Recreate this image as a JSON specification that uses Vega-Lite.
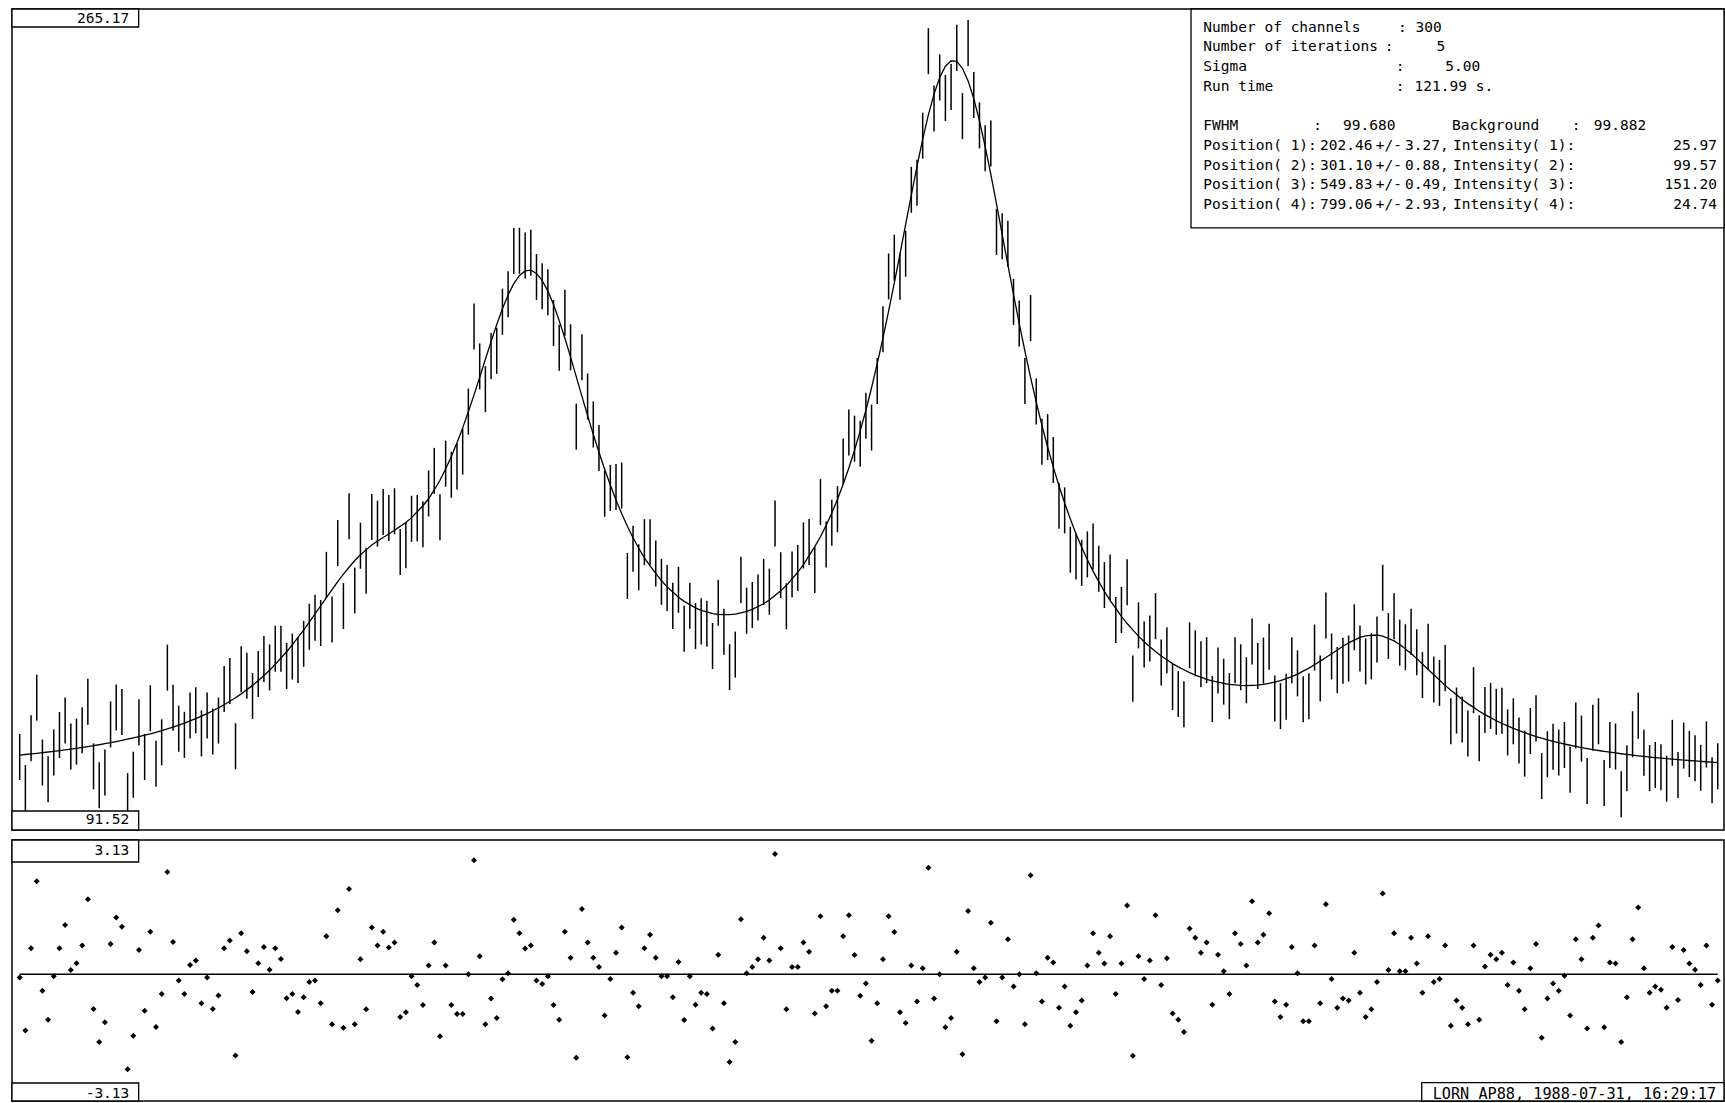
{
"$schema": "https://vega.github.io/schema/vega-lite/v6.json",
"background": "white",
"padding": {"left": 10, "top": 7, "right": 2, "bottom": 2},
"spacing": 10,
"bounds": "flush",
"config": {"view": {"stroke": "black", "strokeWidth": 1.5}},
"data": {"values": [
{"ch":0,"lo":100.01,"hi":110.01,"fit":105.41,"res":-0.08},
{"ch":1,"lo":93.24,"hi":103.24,"fit":105.54,"res":-1.46},
{"ch":2,"lo":104.07,"hi":114.07,"fit":105.67,"res":0.68},
{"ch":3,"lo":112.90,"hi":122.90,"fit":105.80,"res":2.42},
{"ch":4,"lo":98.79,"hi":108.79,"fit":105.94,"res":-0.43},
{"ch":5,"lo":95.18,"hi":105.18,"fit":106.08,"res":-1.18},
{"ch":6,"lo":100.98,"hi":110.98,"fit":106.23,"res":-0.05},
{"ch":7,"lo":104.79,"hi":114.79,"fit":106.39,"res":0.68},
{"ch":8,"lo":107.94,"hi":117.94,"fit":106.54,"res":1.28},
{"ch":9,"lo":102.26,"hi":112.26,"fit":106.71,"res":0.11},
{"ch":10,"lo":103.34,"hi":113.34,"fit":106.89,"res":0.29},
{"ch":11,"lo":105.82,"hi":115.82,"fit":107.07,"res":0.75},
{"ch":12,"lo":112.01,"hi":122.01,"fit":107.26,"res":1.95},
{"ch":13,"lo":97.96,"hi":107.96,"fit":107.46,"res":-0.90},
{"ch":14,"lo":93.86,"hi":103.86,"fit":107.66,"res":-1.76},
{"ch":15,"lo":96.63,"hi":106.63,"fit":107.88,"res":-1.25},
{"ch":16,"lo":107.06,"hi":117.06,"fit":108.11,"res":0.79},
{"ch":17,"lo":110.74,"hi":120.74,"fit":108.34,"res":1.48},
{"ch":18,"lo":109.79,"hi":119.79,"fit":108.59,"res":1.24},
{"ch":19,"lo":91.51,"hi":101.51,"fit":108.86,"res":-2.47},
{"ch":20,"lo":96.13,"hi":106.13,"fit":109.13,"res":-1.60},
{"ch":21,"lo":107.57,"hi":117.57,"fit":109.42,"res":0.63},
{"ch":22,"lo":99.98,"hi":109.98,"fit":109.73,"res":-0.95},
{"ch":23,"lo":110.59,"hi":120.59,"fit":110.04,"res":1.11},
{"ch":24,"lo":98.52,"hi":108.52,"fit":110.37,"res":-1.37},
{"ch":25,"lo":103.19,"hi":113.19,"fit":110.74,"res":-0.51},
{"ch":26,"lo":119.40,"hi":129.40,"fit":111.10,"res":2.66},
{"ch":27,"lo":110.70,"hi":120.70,"fit":111.50,"res":0.84},
{"ch":28,"lo":106.13,"hi":116.13,"fit":111.93,"res":-0.16},
{"ch":29,"lo":104.81,"hi":114.81,"fit":112.36,"res":-0.51},
{"ch":30,"lo":109.03,"hi":119.03,"fit":112.83,"res":0.24},
{"ch":31,"lo":110.15,"hi":120.15,"fit":113.35,"res":0.36},
{"ch":32,"lo":105.11,"hi":115.11,"fit":113.86,"res":-0.75},
{"ch":33,"lo":109.03,"hi":119.03,"fit":114.43,"res":-0.08},
{"ch":34,"lo":105.55,"hi":115.55,"fit":115.05,"res":-0.90},
{"ch":35,"lo":107.92,"hi":117.92,"fit":115.67,"res":-0.55},
{"ch":36,"lo":114.76,"hi":124.76,"fit":116.36,"res":0.68},
{"ch":37,"lo":116.52,"hi":126.52,"fit":117.12,"res":0.88},
{"ch":38,"lo":102.32,"hi":112.32,"fit":117.87,"res":-2.11},
{"ch":39,"lo":119.06,"hi":129.06,"fit":118.71,"res":1.07},
{"ch":40,"lo":117.64,"hi":127.64,"fit":119.64,"res":0.60},
{"ch":41,"lo":113.26,"hi":123.26,"fit":120.56,"res":-0.46},
{"ch":42,"lo":118.04,"hi":128.04,"fit":121.59,"res":0.29},
{"ch":43,"lo":121.28,"hi":131.28,"fit":122.73,"res":0.71},
{"ch":44,"lo":119.46,"hi":129.46,"fit":123.86,"res":0.12},
{"ch":45,"lo":123.52,"hi":133.52,"fit":125.12,"res":0.68},
{"ch":46,"lo":123.50,"hi":133.50,"fit":126.50,"res":0.40},
{"ch":47,"lo":119.77,"hi":129.77,"fit":127.87,"res":-0.62},
{"ch":48,"lo":121.82,"hi":131.82,"fit":129.37,"res":-0.51},
{"ch":49,"lo":121.08,"hi":131.08,"fit":130.98,"res":-0.98},
{"ch":50,"lo":124.59,"hi":134.59,"fit":132.59,"res":-0.60},
{"ch":51,"lo":128.29,"hi":138.29,"fit":134.29,"res":-0.20},
{"ch":52,"lo":130.28,"hi":140.28,"fit":136.08,"res":-0.16},
{"ch":53,"lo":129.11,"hi":139.11,"fit":137.86,"res":-0.75},
{"ch":54,"lo":139.58,"hi":149.58,"fit":139.63,"res":0.99},
{"ch":55,"lo":129.88,"hi":139.88,"fit":141.38,"res":-1.30},
{"ch":56,"lo":146.48,"hi":156.48,"fit":143.13,"res":1.67},
{"ch":57,"lo":132.80,"hi":142.80,"fit":144.75,"res":-1.39},
{"ch":58,"lo":152.33,"hi":162.33,"fit":146.23,"res":2.22},
{"ch":59,"lo":136.20,"hi":146.20,"fit":147.70,"res":-1.30},
{"ch":60,"lo":145.91,"hi":155.91,"fit":148.96,"res":0.39},
{"ch":61,"lo":140.46,"hi":150.46,"fit":150.01,"res":-0.91},
{"ch":62,"lo":152.15,"hi":162.15,"fit":151.05,"res":1.22},
{"ch":63,"lo":150.70,"hi":160.70,"fit":151.95,"res":0.75},
{"ch":64,"lo":153.26,"hi":163.26,"fit":152.71,"res":1.11},
{"ch":65,"lo":151.96,"hi":161.96,"fit":153.46,"res":0.70},
{"ch":66,"lo":153.41,"hi":163.41,"fit":154.26,"res":0.83},
{"ch":67,"lo":144.56,"hi":154.56,"fit":155.11,"res":-1.11},
{"ch":68,"lo":146.00,"hi":156.00,"fit":155.95,"res":-0.99},
{"ch":69,"lo":151.77,"hi":161.77,"fit":157.02,"res":-0.05},
{"ch":70,"lo":151.91,"hi":161.91,"fit":158.31,"res":-0.28},
{"ch":71,"lo":150.60,"hi":160.60,"fit":159.60,"res":-0.80},
{"ch":72,"lo":157.27,"hi":167.27,"fit":161.12,"res":0.23},
{"ch":73,"lo":162.18,"hi":172.18,"fit":163.03,"res":0.83},
{"ch":74,"lo":152.09,"hi":162.09,"fit":165.14,"res":-1.61},
{"ch":75,"lo":163.74,"hi":173.74,"fit":167.59,"res":0.23},
{"ch":76,"lo":161.32,"hi":171.32,"fit":170.32,"res":-0.80},
{"ch":77,"lo":163.12,"hi":173.12,"fit":173.27,"res":-1.03},
{"ch":78,"lo":166.37,"hi":176.37,"fit":176.52,"res":-1.03},
{"ch":79,"lo":175.04,"hi":185.04,"fit":180.04,"res":0.00},
{"ch":80,"lo":193.55,"hi":203.55,"fit":183.70,"res":2.97},
{"ch":81,"lo":184.88,"hi":194.88,"fit":187.53,"res":0.47},
{"ch":82,"lo":179.94,"hi":189.94,"fit":191.44,"res":-1.30},
{"ch":83,"lo":187.12,"hi":197.12,"fit":195.27,"res":-0.63},
{"ch":84,"lo":188.28,"hi":198.28,"fit":198.98,"res":-1.14},
{"ch":85,"lo":196.78,"hi":206.78,"fit":202.43,"res":-0.13},
{"ch":86,"lo":200.56,"hi":210.56,"fit":205.41,"res":0.03},
{"ch":87,"lo":209.98,"hi":219.98,"fit":207.88,"res":1.42},
{"ch":88,"lo":210.02,"hi":220.02,"fit":209.67,"res":1.07},
{"ch":89,"lo":208.99,"hi":218.99,"fit":210.64,"res":0.67},
{"ch":90,"lo":209.56,"hi":219.56,"fit":210.81,"res":0.75},
{"ch":91,"lo":204.30,"hi":214.30,"fit":210.10,"res":-0.16},
{"ch":92,"lo":202.30,"hi":212.30,"fit":208.55,"res":-0.25},
{"ch":93,"lo":201.00,"hi":211.00,"fit":206.25,"res":-0.05},
{"ch":94,"lo":194.32,"hi":204.32,"fit":203.32,"res":-0.80},
{"ch":95,"lo":188.94,"hi":198.94,"fit":199.84,"res":-1.18},
{"ch":96,"lo":196.54,"hi":206.54,"fit":195.99,"res":1.11},
{"ch":97,"lo":189.04,"hi":199.04,"fit":191.89,"res":0.43},
{"ch":98,"lo":171.80,"hi":181.80,"fit":187.65,"res":-2.17},
{"ch":99,"lo":186.88,"hi":196.88,"fit":183.38,"res":1.70},
{"ch":100,"lo":178.35,"hi":188.35,"fit":179.20,"res":0.83},
{"ch":101,"lo":172.27,"hi":182.27,"fit":175.12,"res":0.43},
{"ch":102,"lo":167.17,"hi":177.17,"fit":171.22,"res":0.19},
{"ch":103,"lo":157.20,"hi":167.20,"fit":167.55,"res":-1.07},
{"ch":104,"lo":158.49,"hi":168.49,"fit":164.09,"res":-0.12},
{"ch":105,"lo":158.66,"hi":168.66,"fit":160.86,"res":0.56},
{"ch":106,"lo":159.00,"hi":169.00,"fit":157.90,"res":1.22},
{"ch":107,"lo":139.35,"hi":149.35,"fit":155.15,"res":-2.16},
{"ch":108,"lo":145.24,"hi":155.24,"fit":152.64,"res":-0.48},
{"ch":109,"lo":141.22,"hi":151.22,"fit":150.37,"res":-0.83},
{"ch":110,"lo":146.69,"hi":156.69,"fit":148.29,"res":0.68},
{"ch":111,"lo":146.66,"hi":156.66,"fit":146.51,"res":1.03},
{"ch":112,"lo":142.06,"hi":152.06,"fit":144.91,"res":0.43},
{"ch":113,"lo":138.06,"hi":148.06,"fit":143.31,"res":-0.05},
{"ch":114,"lo":136.70,"hi":146.70,"fit":141.95,"res":-0.05},
{"ch":115,"lo":132.84,"hi":142.84,"fit":140.84,"res":-0.60},
{"ch":116,"lo":136.33,"hi":146.33,"fit":139.73,"res":0.32},
{"ch":117,"lo":127.87,"hi":137.87,"fit":138.82,"res":-1.19},
{"ch":118,"lo":132.86,"hi":142.86,"fit":138.11,"res":-0.05},
{"ch":119,"lo":128.45,"hi":138.45,"fit":137.40,"res":-0.79},
{"ch":120,"lo":129.47,"hi":139.47,"fit":136.87,"res":-0.48},
{"ch":121,"lo":128.97,"hi":138.97,"fit":136.52,"res":-0.51},
{"ch":122,"lo":124.12,"hi":134.12,"fit":136.17,"res":-1.41},
{"ch":123,"lo":133.53,"hi":143.53,"fit":135.98,"res":0.51},
{"ch":124,"lo":127.20,"hi":137.20,"fit":135.95,"res":-0.75},
{"ch":125,"lo":119.52,"hi":129.52,"fit":135.92,"res":-2.28},
{"ch":126,"lo":122.25,"hi":132.25,"fit":136.05,"res":-1.76},
{"ch":127,"lo":138.49,"hi":148.49,"fit":136.34,"res":1.43},
{"ch":128,"lo":131.78,"hi":141.78,"fit":136.63,"res":0.03},
{"ch":129,"lo":133.03,"hi":143.03,"fit":137.08,"res":0.19},
{"ch":130,"lo":134.65,"hi":144.65,"fit":137.70,"res":0.39},
{"ch":131,"lo":138.06,"hi":148.06,"fit":138.31,"res":0.95},
{"ch":132,"lo":135.92,"hi":145.92,"fit":139.12,"res":0.36},
{"ch":133,"lo":150.76,"hi":160.76,"fit":140.11,"res":3.13},
{"ch":134,"lo":139.50,"hi":149.50,"fit":141.10,"res":0.68},
{"ch":135,"lo":132.75,"hi":142.75,"fit":142.30,"res":-0.91},
{"ch":136,"lo":139.67,"hi":149.67,"fit":143.72,"res":0.19},
{"ch":137,"lo":141.09,"hi":151.09,"fit":145.14,"res":0.19},
{"ch":138,"lo":145.97,"hi":155.97,"fit":146.82,"res":0.83},
{"ch":139,"lo":146.72,"hi":156.72,"fit":148.77,"res":0.59},
{"ch":140,"lo":140.62,"hi":150.62,"fit":150.72,"res":-1.02},
{"ch":141,"lo":155.40,"hi":165.40,"fit":152.85,"res":1.51},
{"ch":142,"lo":146.18,"hi":156.18,"fit":155.33,"res":-0.83},
{"ch":143,"lo":150.88,"hi":160.88,"fit":158.03,"res":-0.43},
{"ch":144,"lo":153.86,"hi":163.86,"fit":161.01,"res":-0.43},
{"ch":145,"lo":164.22,"hi":174.22,"fit":164.27,"res":0.99},
{"ch":146,"lo":170.51,"hi":180.51,"fit":167.81,"res":1.54},
{"ch":147,"lo":169.17,"hi":179.17,"fit":171.67,"res":0.50},
{"ch":148,"lo":168.06,"hi":178.06,"fit":175.86,"res":-0.56},
{"ch":149,"lo":174.16,"hi":184.16,"fit":180.36,"res":-0.24},
{"ch":150,"lo":171.60,"hi":181.60,"fit":185.25,"res":-1.73},
{"ch":151,"lo":181.72,"hi":191.72,"fit":190.47,"res":-0.75},
{"ch":152,"lo":192.96,"hi":202.96,"fit":196.01,"res":0.39},
{"ch":153,"lo":204.43,"hi":214.43,"fit":201.88,"res":1.51},
{"ch":154,"lo":208.50,"hi":218.50,"fit":208.00,"res":1.10},
{"ch":155,"lo":204.35,"hi":214.35,"fit":214.30,"res":-0.99},
{"ch":156,"lo":209.38,"hi":219.38,"fit":220.73,"res":-1.27},
{"ch":157,"lo":223.27,"hi":233.27,"fit":227.12,"res":0.23},
{"ch":158,"lo":224.79,"hi":234.79,"fit":233.34,"res":-0.71},
{"ch":159,"lo":235.03,"hi":245.03,"fit":239.23,"res":0.16},
{"ch":160,"lo":253.39,"hi":263.39,"fit":244.54,"res":2.77},
{"ch":161,"lo":240.92,"hi":250.92,"fit":249.07,"res":-0.63},
{"ch":162,"lo":247.68,"hi":257.68,"fit":252.68,"res":0.00},
{"ch":163,"lo":243.23,"hi":253.23,"fit":255.13,"res":-1.38},
{"ch":164,"lo":245.61,"hi":255.61,"fit":256.31,"res":-1.14},
{"ch":165,"lo":254.11,"hi":264.11,"fit":256.16,"res":0.59},
{"ch":166,"lo":239.28,"hi":249.28,"fit":254.68,"res":-2.08},
{"ch":167,"lo":255.19,"hi":265.19,"fit":251.94,"res":1.65},
{"ch":168,"lo":243.86,"hi":253.86,"fit":248.06,"res":0.16},
{"ch":169,"lo":237.26,"hi":247.26,"fit":243.26,"res":-0.20},
{"ch":170,"lo":232.30,"hi":242.30,"fit":237.70,"res":-0.08},
{"ch":171,"lo":233.31,"hi":243.31,"fit":231.61,"res":1.34},
{"ch":172,"lo":214.09,"hi":224.09,"fit":225.19,"res":-1.22},
{"ch":173,"lo":213.19,"hi":223.19,"fit":218.59,"res":-0.08},
{"ch":174,"lo":211.54,"hi":221.54,"fit":211.99,"res":0.91},
{"ch":175,"lo":198.90,"hi":208.90,"fit":205.50,"res":-0.32},
{"ch":176,"lo":194.23,"hi":204.23,"fit":199.23,"res":0.00},
{"ch":177,"lo":181.69,"hi":191.69,"fit":193.19,"res":-1.30},
{"ch":178,"lo":195.39,"hi":205.39,"fit":187.49,"res":2.58},
{"ch":179,"lo":177.26,"hi":187.26,"fit":182.11,"res":0.03},
{"ch":180,"lo":168.51,"hi":178.51,"fit":177.06,"res":-0.71},
{"ch":181,"lo":169.52,"hi":179.52,"fit":172.37,"res":0.43},
{"ch":182,"lo":164.55,"hi":174.55,"fit":168.00,"res":0.31},
{"ch":183,"lo":154.59,"hi":164.59,"fit":163.94,"res":-0.87},
{"ch":184,"lo":153.60,"hi":163.60,"fit":160.20,"res":-0.32},
{"ch":185,"lo":145.04,"hi":155.04,"fit":156.74,"res":-1.34},
{"ch":186,"lo":143.59,"hi":153.59,"fit":153.54,"res":-0.99},
{"ch":187,"lo":142.19,"hi":152.19,"fit":150.59,"res":-0.68},
{"ch":188,"lo":144.03,"hi":154.03,"fit":147.88,"res":0.23},
{"ch":189,"lo":145.75,"hi":155.75,"fit":145.40,"res":1.07},
{"ch":190,"lo":140.90,"hi":150.90,"fit":143.10,"res":0.56},
{"ch":191,"lo":137.36,"hi":147.36,"fit":140.96,"res":0.28},
{"ch":192,"lo":139.00,"hi":149.00,"fit":139.05,"res":0.99},
{"ch":193,"lo":129.75,"hi":139.75,"fit":137.30,"res":-0.51},
{"ch":194,"lo":131.95,"hi":141.95,"fit":135.55,"res":0.28},
{"ch":195,"lo":137.95,"hi":147.95,"fit":134.00,"res":1.79},
{"ch":196,"lo":117.03,"hi":127.03,"fit":132.63,"res":-2.12},
{"ch":197,"lo":128.61,"hi":138.61,"fit":131.26,"res":0.47},
{"ch":198,"lo":124.44,"hi":134.44,"fit":130.04,"res":-0.12},
{"ch":199,"lo":125.77,"hi":135.77,"fit":128.97,"res":0.36},
{"ch":200,"lo":130.60,"hi":140.60,"fit":127.90,"res":1.54},
{"ch":201,"lo":120.55,"hi":130.55,"fit":126.95,"res":-0.28},
{"ch":202,"lo":123.22,"hi":133.22,"fit":126.12,"res":0.42},
{"ch":203,"lo":115.19,"hi":125.19,"fit":125.29,"res":-1.02},
{"ch":204,"lo":113.67,"hi":123.67,"fit":124.57,"res":-1.18},
{"ch":205,"lo":111.45,"hi":121.45,"fit":123.95,"res":-1.50},
{"ch":206,"lo":124.27,"hi":134.27,"fit":123.32,"res":1.19},
{"ch":207,"lo":122.54,"hi":132.54,"fit":122.79,"res":0.95},
{"ch":208,"lo":120.14,"hi":130.14,"fit":122.34,"res":0.56},
{"ch":209,"lo":121.04,"hi":131.04,"fit":121.89,"res":0.83},
{"ch":210,"lo":112.58,"hi":122.58,"fit":121.53,"res":-0.79},
{"ch":211,"lo":118.81,"hi":128.81,"fit":121.26,"res":0.51},
{"ch":212,"lo":116.38,"hi":126.38,"fit":120.98,"res":0.08},
{"ch":213,"lo":113.23,"hi":123.23,"fit":120.78,"res":-0.51},
{"ch":214,"lo":121.02,"hi":131.02,"fit":120.67,"res":1.07},
{"ch":215,"lo":119.50,"hi":129.50,"fit":120.55,"res":0.79},
{"ch":216,"lo":116.67,"hi":126.67,"fit":120.52,"res":0.23},
{"ch":217,"lo":125.08,"hi":135.08,"fit":120.58,"res":1.90},
{"ch":218,"lo":119.78,"hi":129.78,"fit":120.63,"res":0.83},
{"ch":219,"lo":120.93,"hi":130.93,"fit":120.78,"res":1.03},
{"ch":220,"lo":123.97,"hi":133.97,"fit":121.02,"res":1.59},
{"ch":221,"lo":112.71,"hi":122.71,"fit":121.26,"res":-0.71},
{"ch":222,"lo":111.05,"hi":121.05,"fit":121.60,"res":-1.11},
{"ch":223,"lo":113.09,"hi":123.09,"fit":122.04,"res":-0.79},
{"ch":224,"lo":121.03,"hi":131.03,"fit":122.48,"res":0.71},
{"ch":225,"lo":118.17,"hi":128.17,"fit":123.02,"res":0.03},
{"ch":226,"lo":112.57,"hi":122.57,"fit":123.67,"res":-1.22},
{"ch":227,"lo":113.21,"hi":123.21,"fit":124.31,"res":-1.22},
{"ch":228,"lo":123.78,"hi":133.78,"fit":125.03,"res":0.75},
{"ch":229,"lo":117.08,"hi":127.08,"fit":125.83,"res":-0.75},
{"ch":230,"lo":130.73,"hi":140.73,"fit":126.63,"res":1.82},
{"ch":231,"lo":121.84,"hi":131.84,"fit":127.44,"res":-0.12},
{"ch":232,"lo":118.91,"hi":128.91,"fit":128.26,"res":-0.87},
{"ch":233,"lo":120.93,"hi":130.93,"fit":129.08,"res":-0.63},
{"ch":234,"lo":121.39,"hi":131.39,"fit":129.79,"res":-0.68},
{"ch":235,"lo":128.19,"hi":138.19,"fit":130.39,"res":0.56},
{"ch":236,"lo":123.59,"hi":133.59,"fit":130.99,"res":-0.48},
{"ch":237,"lo":120.78,"hi":130.78,"fit":131.33,"res":-1.11},
{"ch":238,"lo":121.87,"hi":131.87,"fit":131.42,"res":-0.91},
{"ch":239,"lo":125.51,"hi":135.51,"fit":131.51,"res":-0.20},
{"ch":240,"lo":136.78,"hi":146.78,"fit":131.28,"res":2.10},
{"ch":241,"lo":126.30,"hi":136.30,"fit":130.75,"res":0.11},
{"ch":242,"lo":130.57,"hi":140.57,"fit":130.22,"res":1.07},
{"ch":243,"lo":124.85,"hi":134.85,"fit":129.45,"res":0.08},
{"ch":244,"lo":123.86,"hi":133.86,"fit":128.46,"res":0.08},
{"ch":245,"lo":127.22,"hi":137.22,"fit":127.47,"res":0.95},
{"ch":246,"lo":122.78,"hi":132.78,"fit":126.38,"res":0.28},
{"ch":247,"lo":117.80,"hi":127.80,"fit":125.20,"res":-0.48},
{"ch":248,"lo":123.96,"hi":133.96,"fit":124.01,"res":0.99},
{"ch":249,"lo":116.85,"hi":126.85,"fit":122.85,"res":-0.20},
{"ch":250,"lo":116.11,"hi":126.11,"fit":121.71,"res":-0.12},
{"ch":251,"lo":119.31,"hi":129.31,"fit":120.56,"res":0.75},
{"ch":252,"lo":107.79,"hi":117.79,"fit":119.49,"res":-1.34},
{"ch":253,"lo":110.10,"hi":120.10,"fit":118.50,"res":-0.68},
{"ch":254,"lo":108.16,"hi":118.16,"fit":117.51,"res":-0.87},
{"ch":255,"lo":105.10,"hi":115.10,"fit":116.60,"res":-1.30},
{"ch":256,"lo":114.53,"hi":124.53,"fit":115.78,"res":0.75},
{"ch":257,"lo":104.05,"hi":114.05,"fit":114.95,"res":-1.18},
{"ch":258,"lo":110.21,"hi":120.21,"fit":114.21,"res":0.20},
{"ch":259,"lo":111.09,"hi":121.09,"fit":113.54,"res":0.51},
{"ch":260,"lo":109.82,"hi":119.82,"fit":112.87,"res":0.39},
{"ch":261,"lo":110.07,"hi":120.07,"fit":112.27,"res":0.56},
{"ch":262,"lo":105.34,"hi":115.34,"fit":111.74,"res":-0.28},
{"ch":263,"lo":107.75,"hi":117.75,"fit":111.20,"res":0.31},
{"ch":264,"lo":103.56,"hi":113.56,"fit":110.71,"res":-0.43},
{"ch":265,"lo":100.73,"hi":110.73,"fit":110.28,"res":-0.91},
{"ch":266,"lo":105.64,"hi":115.64,"fit":109.84,"res":0.16},
{"ch":267,"lo":108.39,"hi":118.39,"fit":109.44,"res":0.79},
{"ch":268,"lo":95.84,"hi":105.84,"fit":109.09,"res":-1.65},
{"ch":269,"lo":100.58,"hi":110.58,"fit":108.73,"res":-0.63},
{"ch":270,"lo":102.20,"hi":112.20,"fit":108.40,"res":-0.24},
{"ch":271,"lo":100.96,"hi":110.96,"fit":108.11,"res":-0.43},
{"ch":272,"lo":102.62,"hi":112.62,"fit":107.82,"res":-0.04},
{"ch":273,"lo":97.20,"hi":107.20,"fit":107.55,"res":-1.07},
{"ch":274,"lo":106.85,"hi":116.85,"fit":107.30,"res":0.91},
{"ch":275,"lo":104.00,"hi":114.00,"fit":107.05,"res":0.39},
{"ch":276,"lo":94.78,"hi":104.78,"fit":106.83,"res":-1.41},
{"ch":277,"lo":106.37,"hi":116.37,"fit":106.62,"res":0.95},
{"ch":278,"lo":107.76,"hi":117.76,"fit":106.41,"res":1.27},
{"ch":279,"lo":94.32,"hi":104.32,"fit":106.22,"res":-1.38},
{"ch":280,"lo":102.60,"hi":112.60,"fit":106.05,"res":0.31},
{"ch":281,"lo":102.27,"hi":112.27,"fit":105.87,"res":0.28},
{"ch":282,"lo":91.90,"hi":101.90,"fit":105.70,"res":-1.76},
{"ch":283,"lo":97.55,"hi":107.55,"fit":105.55,"res":-0.60},
{"ch":284,"lo":104.95,"hi":114.95,"fit":105.40,"res":0.91},
{"ch":285,"lo":108.96,"hi":118.96,"fit":105.26,"res":1.74},
{"ch":286,"lo":100.93,"hi":110.93,"fit":105.13,"res":0.16},
{"ch":287,"lo":97.59,"hi":107.59,"fit":104.99,"res":-0.48},
{"ch":288,"lo":98.27,"hi":108.27,"fit":104.87,"res":-0.32},
{"ch":289,"lo":97.76,"hi":107.76,"fit":104.76,"res":-0.40},
{"ch":290,"lo":95.29,"hi":105.29,"fit":104.64,"res":-0.87},
{"ch":291,"lo":103.08,"hi":113.08,"fit":104.53,"res":0.71},
{"ch":292,"lo":96.08,"hi":106.08,"fit":104.43,"res":-0.67},
{"ch":293,"lo":102.47,"hi":112.47,"fit":104.32,"res":0.63},
{"ch":294,"lo":100.63,"hi":110.63,"fit":104.23,"res":0.28},
{"ch":295,"lo":99.74,"hi":109.74,"fit":104.14,"res":0.12},
{"ch":296,"lo":97.65,"hi":107.65,"fit":104.05,"res":-0.28},
{"ch":297,"lo":102.71,"hi":112.71,"fit":103.96,"res":0.75},
{"ch":298,"lo":94.93,"hi":104.93,"fit":103.88,"res":-0.79},
{"ch":299,"lo":97.99,"hi":107.99,"fit":103.79,"res":-0.16}
]},
"vconcat": [
{
"width": 1712, "height": 821,
"layer": [
{"mark": {"type": "rule", "color": "black", "strokeWidth": 1.5},
 "encoding": {
  "x": {"field": "ch", "type": "quantitative", "scale": {"domain": [-1.356, 300.1], "nice": false, "zero": false}, "axis": null},
  "y": {"field": "lo", "type": "quantitative", "scale": {"domain": [89.13, 267.56], "nice": false, "zero": false}, "axis": null},
  "y2": {"field": "hi"}}},
{"mark": {"type": "line", "color": "black", "strokeWidth": 1.3},
 "encoding": {
  "x": {"field": "ch", "type": "quantitative", "axis": null},
  "y": {"field": "fit", "type": "quantitative", "axis": null}}},
{"data": {"values": [{}]},
 "mark": {"type": "rect", "fill": "white", "stroke": "black", "strokeWidth": 1.3},
 "encoding": {"x": {"datum": -1.356, "type": "quantitative", "axis": null}, "x2": {"datum": 20.95},
  "y": {"datum": 267.56, "type": "quantitative", "axis": null}, "y2": {"datum": 263.65}}},
{"data": {"values": [{}]},
 "mark": {"type": "rect", "fill": "white", "stroke": "black", "strokeWidth": 1.3},
 "encoding": {"x": {"datum": -1.356, "type": "quantitative", "axis": null}, "x2": {"datum": 20.95},
  "y": {"datum": 93.26, "type": "quantitative", "axis": null}, "y2": {"datum": 89.13}}},
{"data": {"values": [{}]},
 "mark": {"type": "rect", "fill": "white", "stroke": "black", "strokeWidth": 1.3},
 "encoding": {"x": {"datum": 206.25, "type": "quantitative", "axis": null}, "x2": {"datum": 300.1},
  "y": {"datum": 267.56, "type": "quantitative", "axis": null}, "y2": {"datum": 219.97}}},
{"data": {"values": [{}]},
 "mark": {"type": "text", "text": "265.17", "align": "right", "baseline": "middle", "font": "DejaVu Sans Mono", "fontSize": 14.5, "color": "black"},
 "encoding": {"x": {"datum": 19.30, "type": "quantitative", "axis": null}, "y": {"datum": 265.35, "type": "quantitative", "axis": null}}},
{"data": {"values": [{}]},
 "mark": {"type": "text", "text": "91.52", "align": "right", "baseline": "middle", "font": "DejaVu Sans Mono", "fontSize": 14.5, "color": "black"},
 "encoding": {"x": {"datum": 19.30, "type": "quantitative", "axis": null}, "y": {"datum": 91.30, "type": "quantitative", "axis": null}}},
{"data": {"values": [{}]},
 "mark": {"type": "text", "text": ["Number of channels", "Number of iterations", "Sigma", "Run time"], "align": "left", "baseline": "top", "lineHeight": 19.7, "font": "DejaVu Sans Mono", "fontSize": 14.5, "color": "black"},
 "encoding": {"x": {"datum": 208.42, "type": "quantitative", "axis": null}, "y": {"datum": 265.02, "type": "quantitative", "axis": null}}},
{"data": {"values": [{}]},
 "mark": {"type": "text", "text": ["FWHM", "Position( 1):", "Position( 2):", "Position( 3):", "Position( 4):"], "align": "left", "baseline": "top", "lineHeight": 19.7, "font": "DejaVu Sans Mono", "fontSize": 14.5, "color": "black"},
 "encoding": {"x": {"datum": 208.42, "type": "quantitative", "axis": null}, "y": {"datum": 243.61, "type": "quantitative", "axis": null}}},
{"data": {"values": [{}]},
 "mark": {"type": "text", "text": ":", "align": "center", "baseline": "top", "font": "DejaVu Sans Mono", "fontSize": 14.5, "color": "black"},
 "encoding": {"x": {"datum": 243.48, "type": "quantitative", "axis": null}, "y": {"datum": 265.02, "type": "quantitative", "axis": null}}},
{"data": {"values": [{}]},
 "mark": {"type": "text", "text": ":", "align": "center", "baseline": "top", "font": "DejaVu Sans Mono", "fontSize": 14.5, "color": "black"},
 "encoding": {"x": {"datum": 241.12, "type": "quantitative", "axis": null}, "y": {"datum": 260.74, "type": "quantitative", "axis": null}}},
{"data": {"values": [{}]},
 "mark": {"type": "text", "text": [":", ":"], "align": "center", "baseline": "top", "lineHeight": 19.7, "font": "DejaVu Sans Mono", "fontSize": 14.5, "color": "black"},
 "encoding": {"x": {"datum": 243.05, "type": "quantitative", "axis": null}, "y": {"datum": 256.46, "type": "quantitative", "axis": null}}},
{"data": {"values": [{}]},
 "mark": {"type": "text", "text": "300", "align": "left", "baseline": "top", "font": "DejaVu Sans Mono", "fontSize": 14.5, "color": "black"},
 "encoding": {"x": {"datum": 245.80, "type": "quantitative", "axis": null}, "y": {"datum": 265.02, "type": "quantitative", "axis": null}}},
{"data": {"values": [{}]},
 "mark": {"type": "text", "text": "5", "align": "left", "baseline": "top", "font": "DejaVu Sans Mono", "fontSize": 14.5, "color": "black"},
 "encoding": {"x": {"datum": 249.48, "type": "quantitative", "axis": null}, "y": {"datum": 260.74, "type": "quantitative", "axis": null}}},
{"data": {"values": [{}]},
 "mark": {"type": "text", "text": "5.00", "align": "left", "baseline": "top", "font": "DejaVu Sans Mono", "fontSize": 14.5, "color": "black"},
 "encoding": {"x": {"datum": 251.03, "type": "quantitative", "axis": null}, "y": {"datum": 256.46, "type": "quantitative", "axis": null}}},
{"data": {"values": [{}]},
 "mark": {"type": "text", "text": "121.99 s.", "align": "left", "baseline": "top", "font": "DejaVu Sans Mono", "fontSize": 14.5, "color": "black"},
 "encoding": {"x": {"datum": 245.61, "type": "quantitative", "axis": null}, "y": {"datum": 252.17, "type": "quantitative", "axis": null}}},
{"data": {"values": [{}]},
 "mark": {"type": "text", "text": ":", "align": "center", "baseline": "top", "font": "DejaVu Sans Mono", "fontSize": 14.5, "color": "black"},
 "encoding": {"x": {"datum": 228.56, "type": "quantitative", "axis": null}, "y": {"datum": 243.61, "type": "quantitative", "axis": null}}},
{"data": {"values": [{}]},
 "mark": {"type": "text", "text": "99.680", "align": "left", "baseline": "top", "font": "DejaVu Sans Mono", "fontSize": 14.5, "color": "black"},
 "encoding": {"x": {"datum": 233.02, "type": "quantitative", "axis": null}, "y": {"datum": 243.61, "type": "quantitative", "axis": null}}},
{"data": {"values": [{}]},
 "mark": {"type": "text", "text": "Background", "align": "left", "baseline": "top", "font": "DejaVu Sans Mono", "fontSize": 14.5, "color": "black"},
 "encoding": {"x": {"datum": 252.21, "type": "quantitative", "axis": null}, "y": {"datum": 243.61, "type": "quantitative", "axis": null}}},
{"data": {"values": [{}]},
 "mark": {"type": "text", "text": ":", "align": "center", "baseline": "top", "font": "DejaVu Sans Mono", "fontSize": 14.5, "color": "black"},
 "encoding": {"x": {"datum": 274.05, "type": "quantitative", "axis": null}, "y": {"datum": 243.61, "type": "quantitative", "axis": null}}},
{"data": {"values": [{}]},
 "mark": {"type": "text", "text": "99.882", "align": "left", "baseline": "top", "font": "DejaVu Sans Mono", "fontSize": 14.5, "color": "black"},
 "encoding": {"x": {"datum": 277.18, "type": "quantitative", "axis": null}, "y": {"datum": 243.61, "type": "quantitative", "axis": null}}},
{"data": {"values": [{}]},
 "mark": {"type": "text", "text": ["202.46", "301.10", "549.83", "799.06"], "align": "left", "baseline": "top", "lineHeight": 19.7, "font": "DejaVu Sans Mono", "fontSize": 14.5, "color": "black"},
 "encoding": {"x": {"datum": 228.97, "type": "quantitative", "axis": null}, "y": {"datum": 239.33, "type": "quantitative", "axis": null}}},
{"data": {"values": [{}]},
 "mark": {"type": "text", "text": ["+/-", "+/-", "+/-", "+/-"], "align": "left", "baseline": "top", "lineHeight": 19.7, "font": "DejaVu Sans Mono", "fontSize": 14.5, "color": "black"},
 "encoding": {"x": {"datum": 238.80, "type": "quantitative", "axis": null}, "y": {"datum": 239.33, "type": "quantitative", "axis": null}}},
{"data": {"values": [{}]},
 "mark": {"type": "text", "text": ["3.27,", "0.88,", "0.49,", "2.93,"], "align": "left", "baseline": "top", "lineHeight": 19.7, "font": "DejaVu Sans Mono", "fontSize": 14.5, "color": "black"},
 "encoding": {"x": {"datum": 243.94, "type": "quantitative", "axis": null}, "y": {"datum": 239.33, "type": "quantitative", "axis": null}}},
{"data": {"values": [{}]},
 "mark": {"type": "text", "text": ["Intensity( 1):", "Intensity( 2):", "Intensity( 3):", "Intensity( 4):"], "align": "left", "baseline": "top", "lineHeight": 19.7, "font": "DejaVu Sans Mono", "fontSize": 14.5, "color": "black"},
 "encoding": {"x": {"datum": 252.39, "type": "quantitative", "axis": null}, "y": {"datum": 239.33, "type": "quantitative", "axis": null}}},
{"data": {"values": [{}]},
 "mark": {"type": "text", "text": ["25.97", "99.57", "151.20", "24.74"], "align": "right", "baseline": "top", "lineHeight": 19.7, "font": "DejaVu Sans Mono", "fontSize": 14.5, "color": "black"},
 "encoding": {"x": {"datum": 298.87, "type": "quantitative", "axis": null}, "y": {"datum": 239.33, "type": "quantitative", "axis": null}}}
]
},
{
"width": 1712, "height": 261,
"layer": [
{"data": {"values": [{}]},
 "mark": {"type": "rule", "color": "black", "strokeWidth": 1.5},
 "encoding": {"x": {"datum": 0, "type": "quantitative", "scale": {"domain": [-1.356, 300.1], "nice": false, "zero": false}, "axis": null}, "x2": {"datum": 299},
  "y": {"datum": 0, "type": "quantitative", "scale": {"domain": [-3.297, 3.495], "nice": false, "zero": false}, "axis": null}}},
{"mark": {"type": "point", "shape": "diamond", "filled": true, "size": 36, "color": "black", "opacity": 1},
 "encoding": {
  "x": {"field": "ch", "type": "quantitative", "axis": null},
  "y": {"field": "res", "type": "quantitative", "axis": null}}},
{"data": {"values": [{}]},
 "mark": {"type": "rect", "fill": "white", "stroke": "black", "strokeWidth": 1.3},
 "encoding": {"x": {"datum": -1.356, "type": "quantitative", "axis": null}, "x2": {"datum": 20.95},
  "y": {"datum": 3.495, "type": "quantitative", "axis": null}, "y2": {"datum": 2.922}}},
{"data": {"values": [{}]},
 "mark": {"type": "rect", "fill": "white", "stroke": "black", "strokeWidth": 1.3},
 "encoding": {"x": {"datum": -1.356, "type": "quantitative", "axis": null}, "x2": {"datum": 20.95},
  "y": {"datum": -2.829, "type": "quantitative", "axis": null}, "y2": {"datum": -3.297}}},
{"data": {"values": [{}]},
 "mark": {"type": "rect", "fill": "white", "stroke": "black", "strokeWidth": 1.3},
 "encoding": {"x": {"datum": 246.87, "type": "quantitative", "axis": null}, "x2": {"datum": 300.1},
  "y": {"datum": -2.821, "type": "quantitative", "axis": null}, "y2": {"datum": -3.297}}},
{"data": {"values": [{}]},
 "mark": {"type": "text", "text": "3.13", "align": "right", "baseline": "middle", "font": "DejaVu Sans Mono", "fontSize": 14.5, "color": "black"},
 "encoding": {"x": {"datum": 19.30, "type": "quantitative", "axis": null}, "y": {"datum": 3.209, "type": "quantitative", "axis": null}}},
{"data": {"values": [{}]},
 "mark": {"type": "text", "text": "-3.13", "align": "right", "baseline": "middle", "font": "DejaVu Sans Mono", "fontSize": 14.5, "color": "black"},
 "encoding": {"x": {"datum": 19.30, "type": "quantitative", "axis": null}, "y": {"datum": -3.102, "type": "quantitative", "axis": null}}},
{"data": {"values": [{}]},
 "mark": {"type": "text", "text": "LORN AP88, 1988-07-31, 16:29:17", "align": "center", "baseline": "middle", "font": "DejaVu Sans Mono", "fontSize": 15.2, "color": "black"},
 "encoding": {"x": {"datum": 273.76, "type": "quantitative", "axis": null}, "y": {"datum": -3.123, "type": "quantitative", "axis": null}}}
]
}
]
}
